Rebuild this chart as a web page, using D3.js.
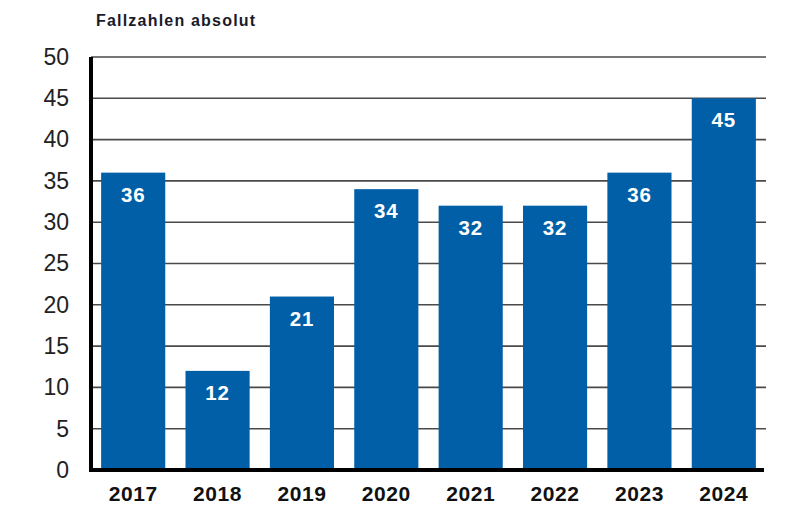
<!DOCTYPE html>
<html>
<head>
<meta charset="utf-8">
<script src="https://cdn.jsdelivr.net/npm/d3@7"></script>
<style>
  body { margin: 0; background: #fff; }
  svg text { font-family: "Liberation Sans", Arial, sans-serif; }
</style>
</head>
<body>
<div id="chart"></div>
<script>
// Chart data
const years = ['2017', '2018', '2019', '2020', '2021', '2022', '2023', '2024'];
const cases = [36, 12, 21, 34, 32, 32, 36, 45];
const yTicks = [0, 5, 10, 15, 20, 25, 30, 35, 40, 45, 50];

const W = 794, H = 508;
const plotLeft = 91, plotRight = 766, plotTop = 57, plotBottom = 470;

const svg = d3.select('#chart').append('svg')
    .attr('width', W)
    .attr('height', H);

const x = d3.scaleBand()
    .domain(years)
    .range([plotLeft, plotRight])
    .paddingInner(0.24)
    .paddingOuter(0.12);

const y = d3.scaleLinear()
    .domain([0, 50])
    .range([plotBottom, plotTop]);

// gridlines
svg.append('g')
    .selectAll('line')
    .data(yTicks.filter(d => d > 0))
    .enter().append('line')
    .attr('x1', plotLeft)
    .attr('x2', plotRight)
    .attr('y1', d => y(d))
    .attr('y2', d => y(d))
    .attr('stroke', '#4a4a4a')
    .attr('stroke-width', 1.6);

// y axis labels
const yAxis = d3.axisLeft(y).tickValues(yTicks).tickSize(0).tickPadding(22);
const gy = svg.append('g')
    .attr('transform', `translate(${plotLeft},0)`)
    .call(yAxis);
gy.select('.domain').remove();
gy.selectAll('text')
    .attr('font-size', 23)
    .attr('fill', '#222')
    .style('font-family', '"Liberation Sans", Arial, sans-serif');

// bars
svg.selectAll('.bar')
    .data(cases)
    .enter().append('rect')
    .attr('class', 'bar')
    .attr('x', (d, i) => x(years[i]))
    .attr('y', d => y(d))
    .attr('width', x.bandwidth())
    .attr('height', d => plotBottom - y(d))
    .attr('fill', '#005fa6');

// value labels
svg.selectAll('.value-label')
    .data(cases)
    .enter().append('text')
    .attr('class', 'value-label')
    .attr('x', (d, i) => x(years[i]) + x.bandwidth() / 2)
    .attr('y', d => y(d) + 29)
    .attr('text-anchor', 'middle')
    .attr('fill', '#fff')
    .attr('font-weight', 'bold')
    .attr('font-size', 20.5)
    .attr('letter-spacing', 0.8)
    .text(d => d);

// axis lines
svg.append('line')
    .attr('x1', plotLeft).attr('x2', plotLeft)
    .attr('y1', plotTop).attr('y2', plotBottom + 2)
    .attr('stroke', '#000')
    .attr('stroke-width', 4);

svg.append('line')
    .attr('x1', plotLeft - 2).attr('x2', plotRight - 2)
    .attr('y1', plotBottom).attr('y2', plotBottom)
    .attr('stroke', '#000')
    .attr('stroke-width', 4);

// x axis labels
const xAxis = d3.axisBottom(x).tickSize(0).tickPadding(16);
const gx = svg.append('g')
    .attr('transform', `translate(0,${plotBottom})`)
    .call(xAxis);
gx.select('.domain').remove();
gx.selectAll('text')
    .attr('font-size', 21)
    .attr('font-weight', 'bold')
    .attr('letter-spacing', 0.6)
    .attr('fill', '#111')
    .style('font-family', '"Liberation Sans", Arial, sans-serif');

// title
svg.append('text')
    .attr('x', 96)
    .attr('y', 26)
    .attr('font-size', 16)
    .attr('font-weight', 'bold')
    .attr('letter-spacing', 1.2)
    .attr('fill', '#1a1a2a')
    .text('Fallzahlen absolut');
</script>
</body>
</html>
